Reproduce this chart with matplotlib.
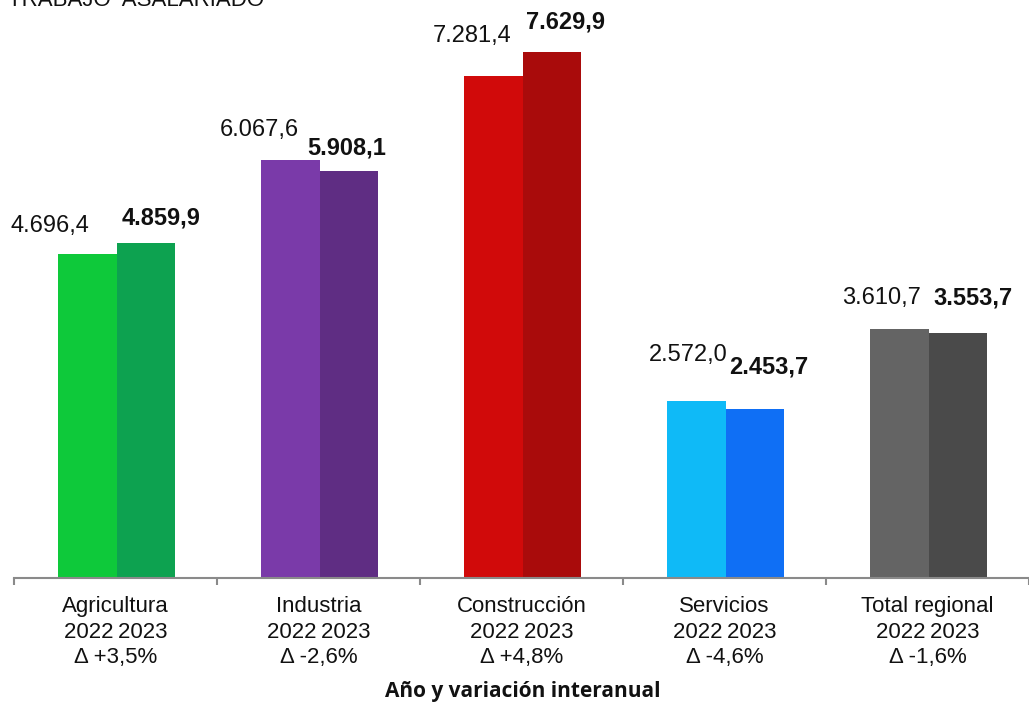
import numpy as np
import matplotlib.pyplot as plt

plt.rcParams['font.family'] = ['Liberation Sans', 'DejaVu Sans']

categories = ['Agricultura', 'Industria', 'Construcción', 'Servicios', 'Total regional']
changes = ['+3,5%', '-2,6%', '+4,8%', '-4,6%', '-1,6%']
v2022 = [4696.4, 6067.6, 7281.4, 2572.0, 3610.7]
v2023 = [4859.9, 5908.1, 7629.9, 2453.7, 3553.7]

c2022 = ['#0ec93a', '#7a3aa9', '#d10a0a', '#0fbaf7', '#646464']
c2023 = ['#0da250', '#5f2d83', '#a90b0b', '#0f6ff5', '#4a4a4a']

# label offsets in pixels (dx, dy above bar top)
off2022 = [(-36, 28), (-30, 30), (-20, 40), (-7, 46), (-17, 31)]
off2023 = [(16, 25), (-1, 23), (15, 30), (15, 42), (16, 35)]


def fmt(v):
    s = '{:,.1f}'.format(v)
    return s.replace(',', 'X').replace('.', ',').replace('X', '.')


W, H = 1029, 706
fig = plt.figure(figsize=(W / 100, H / 100), dpi=100)
ax = fig.add_axes([14 / W, (H - 578) / H, 1015 / W, 578 / H])

x = np.arange(len(categories))
bw = 0.29
ax.bar(x - bw / 2 + 0.005, v2022, bw, color=c2022, edgecolor='none')
ax.bar(x + bw / 2 + 0.005, v2023, bw, color=c2023, edgecolor='none')

ax.set_xlim(-0.5, len(categories) - 0.5)
ax.set_ylim(0, 578 / 0.0689)

for i in range(len(categories)):
    ax.annotate(fmt(v2022[i]), (x[i] - bw / 2, v2022[i]),
                xytext=(off2022[i][0] * 0.72, off2022[i][1] * 0.72), textcoords='offset points',
                ha='center', va='center', fontsize=17, color='#111111')
    ax.annotate(fmt(v2023[i]), (x[i] + bw / 2, v2023[i]),
                xytext=(off2023[i][0] * 0.72, off2023[i][1] * 0.72), textcoords='offset points',
                ha='center', va='center', fontsize=17, fontweight='bold', color='#111111')

labels = [c + '\n2022\u20092023\n\u0394 ' + d for c, d in zip(categories, changes)]
ax.set_xticks(x)
ax.set_xticklabels(labels, fontsize=16, linespacing=1.28, color='#111111')
ax.set_xticks(np.arange(len(categories) + 1) - 0.5, minor=True)
ax.tick_params(axis='x', which='major', length=0, pad=13)
ax.tick_params(axis='x', which='minor', length=5, width=1.5, color='#8a8a8a')
ax.set_yticks([])

for s in ['top', 'right', 'left']:
    ax.spines[s].set_visible(False)
ax.spines['bottom'].set_color('#8a8a8a')
ax.spines['bottom'].set_linewidth(1.5)

fig.text(523 / W, 1 - 691 / H, 'Año y variación interanual', ha='center', va='center',
         fontsize=15, fontweight='bold', family=['Open Sans', 'DejaVu Sans'], color='#111111')
fig.text(8 / W, 1 - 1 / H, 'TRABAJO  ASALARIADO', ha='left', va='center',
         fontsize=16, color='#111111')

fig.savefig('out.png', dpi=100)
